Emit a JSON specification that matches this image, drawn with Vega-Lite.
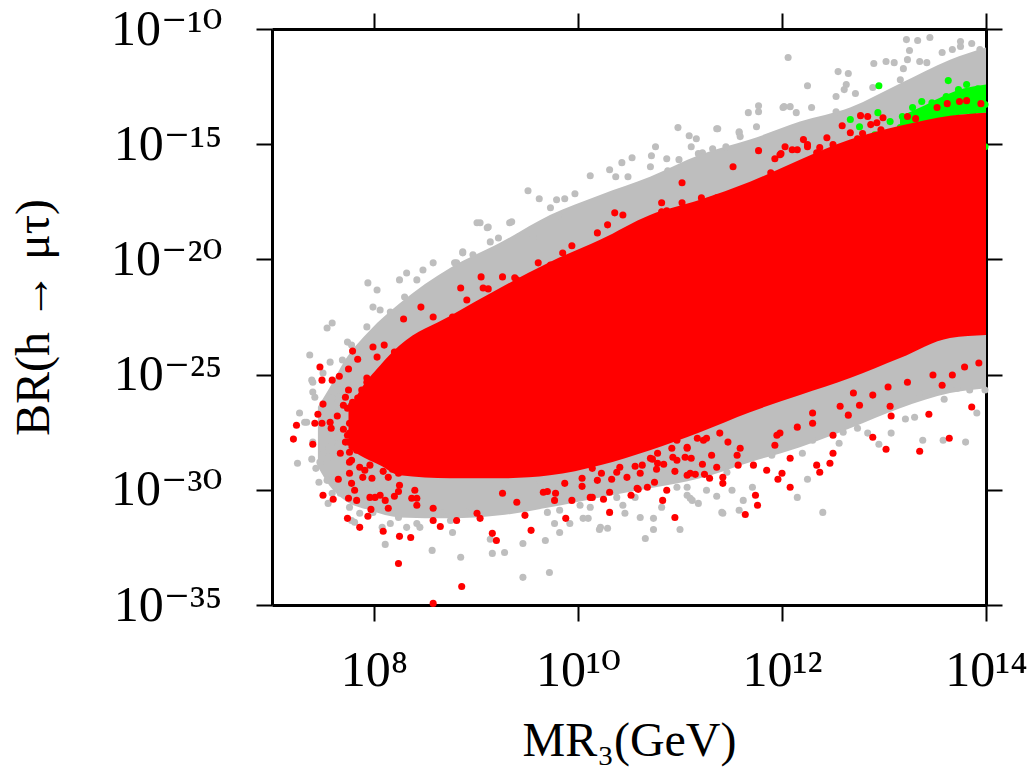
{
  "$schema": "https://vega.github.io/schema/vega-lite/v6.json",
  "width": 714,
  "height": 576,
  "autosize": "none",
  "padding": {"left": 272, "top": 29, "right": 41, "bottom": 169},
  "background": "white",
  "datasets": {
    "grayBand": [
      {"logM": 7.45, "hi": -26.4, "lo": -29.0},
      {"logM": 7.56, "hi": -25.6, "lo": -29.8},
      {"logM": 7.716, "hi": -24.37, "lo": -30.46},
      {"logM": 7.961, "hi": -23.07, "lo": -30.89},
      {"logM": 8.255, "hi": -21.89, "lo": -31.2},
      {"logM": 8.745, "hi": -20.37, "lo": -31.24},
      {"logM": 9.235, "hi": -19.28, "lo": -31.11},
      {"logM": 9.725, "hi": -18.07, "lo": -30.76},
      {"logM": 10.216, "hi": -17.2, "lo": -30.33},
      {"logM": 10.706, "hi": -16.41, "lo": -29.93},
      {"logM": 11.196, "hi": -15.46, "lo": -29.5},
      {"logM": 11.686, "hi": -14.8, "lo": -28.8},
      {"logM": 12.176, "hi": -14.02, "lo": -28.15},
      {"logM": 12.667, "hi": -13.41, "lo": -27.33},
      {"logM": 13.157, "hi": -12.37, "lo": -26.46},
      {"logM": 13.647, "hi": -11.33, "lo": -25.8},
      {"logM": 14.0, "hi": -10.8, "lo": -25.59}
    ],
    "redBand": [
      {"logM": 7.75, "hi": -26.6, "lo": -28.2},
      {"logM": 7.86, "hi": -25.7, "lo": -28.5},
      {"logM": 8.059, "hi": -24.6, "lo": -28.93},
      {"logM": 8.255, "hi": -23.72, "lo": -29.37},
      {"logM": 8.745, "hi": -22.46, "lo": -29.5},
      {"logM": 9.235, "hi": -21.24, "lo": -29.5},
      {"logM": 9.725, "hi": -20.11, "lo": -29.37},
      {"logM": 10.216, "hi": -19.15, "lo": -28.93},
      {"logM": 10.706, "hi": -18.07, "lo": -28.28},
      {"logM": 11.196, "hi": -17.41, "lo": -27.5},
      {"logM": 11.686, "hi": -16.63, "lo": -26.63},
      {"logM": 12.176, "hi": -15.67, "lo": -25.89},
      {"logM": 12.667, "hi": -14.8, "lo": -25.15},
      {"logM": 13.157, "hi": -14.2, "lo": -24.28},
      {"logM": 13.647, "hi": -13.76, "lo": -23.41},
      {"logM": 14.0, "hi": -13.63, "lo": -23.28}
    ],
    "greenBand": [
      {"logM": 13.157, "hi": -13.8, "lo": -14.28},
      {"logM": 13.353, "hi": -13.41, "lo": -14.15},
      {"logM": 13.549, "hi": -12.98, "lo": -13.93},
      {"logM": 13.745, "hi": -12.63, "lo": -13.72},
      {"logM": 14.0, "hi": -12.41, "lo": -13.63}
    ],
    "gray": [
      {"logM": 12.06, "logBR": -11.24}, {"logM": 12.25, "logBR": -12.46}, {"logM": 12.55, "logBR": -11.85}, {"logM": 12.65, "logBR": -11.93},
      {"logM": 12.9, "logBR": -11.5}, {"logM": 13.02, "logBR": -11.41}, {"logM": 13.1, "logBR": -11.46}, {"logM": 13.19, "logBR": -11.72},
      {"logM": 13.22, "logBR": -10.46}, {"logM": 13.33, "logBR": -10.5}, {"logM": 13.25, "logBR": -10.93}, {"logM": 13.23, "logBR": -11.33},
      {"logM": 13.35, "logBR": -11.41}, {"logM": 13.42, "logBR": -11.46}, {"logM": 13.57, "logBR": -11.02}, {"logM": 13.75, "logBR": -10.54},
      {"logM": 13.75, "logBR": -10.76}, {"logM": 13.67, "logBR": -10.89}, {"logM": 12.63, "logBR": -12.41}, {"logM": 12.61, "logBR": -12.63},
      {"logM": 12.53, "logBR": -12.93}, {"logM": 12.72, "logBR": -12.8}, {"logM": 11.67, "logBR": -13.63}, {"logM": 11.77, "logBR": -13.33},
      {"logM": 11.77, "logBR": -13.59}, {"logM": 12.01, "logBR": -13.41}, {"logM": 12.14, "logBR": -13.63}, {"logM": 12.29, "logBR": -13.41},
      {"logM": 11.36, "logBR": -14.33}, {"logM": 11.58, "logBR": -14.46}, {"logM": 11.75, "logBR": -14.24}, {"logM": 11.22, "logBR": -15.37},
      {"logM": 11.45, "logBR": -15.11}, {"logM": 12.53, "logBR": -13.59}, {"logM": 12.89, "logBR": -12.54}, {"logM": 13.16, "logBR": -12.2},
      {"logM": 13.45, "logBR": -10.37}, {"logM": 13.86, "logBR": -10.63}, {"logM": 13.94, "logBR": -10.89},
      {"logM": 9.51, "logBR": -17.02}, {"logM": 9.62, "logBR": -17.37}, {"logM": 9.79, "logBR": -17.41}, {"logM": 9.87, "logBR": -17.37},
      {"logM": 9.97, "logBR": -17.15}, {"logM": 9.73, "logBR": -17.76}, {"logM": 9.81, "logBR": -18.11}, {"logM": 10.12, "logBR": -16.37},
      {"logM": 10.31, "logBR": -16.11}, {"logM": 10.37, "logBR": -16.41}, {"logM": 10.43, "logBR": -15.8}, {"logM": 10.53, "logBR": -15.59},
      {"logM": 10.49, "logBR": -16.41}, {"logM": 10.72, "logBR": -15.5}, {"logM": 10.76, "logBR": -15.11}, {"logM": 10.71, "logBR": -15.98},
      {"logM": 10.87, "logBR": -15.63}, {"logM": 10.88, "logBR": -16.15}, {"logM": 10.99, "logBR": -15.67}, {"logM": 10.98, "logBR": -14.28},
      {"logM": 11.09, "logBR": -14.63}, {"logM": 11.16, "logBR": -14.76}, {"logM": 11.18, "logBR": -15.41}, {"logM": 11.11, "logBR": -15.11},
      {"logM": 11.32, "logBR": -15.2}, {"logM": 11.37, "logBR": -14.33}, {"logM": 11.58, "logBR": -14.5}, {"logM": 11.59, "logBR": -14.67},
      {"logM": 12.02, "logBR": -13.37}, {"logM": 12.08, "logBR": -13.37}, {"logM": 9.04, "logBR": -18.41}, {"logM": 9.11, "logBR": -18.63},
      {"logM": 9.22, "logBR": -19.07}, {"logM": 9.35, "logBR": -18.37}, {"logM": 9.42, "logBR": -19.02}, {"logM": 9.56, "logBR": -19.07},
      {"logM": 8.87, "logBR": -19.67}, {"logM": 8.97, "logBR": -19.8}, {"logM": 8.81, "logBR": -20.15},
      {"logM": 7.37, "logBR": -24.15}, {"logM": 7.54, "logBR": -22.98}, {"logM": 7.59, "logBR": -22.76}, {"logM": 7.74, "logBR": -23.59},
      {"logM": 7.94, "logBR": -21.02}, {"logM": 8.03, "logBR": -21.33}, {"logM": 7.99, "logBR": -22.07}, {"logM": 7.93, "logBR": -22.93},
      {"logM": 8.06, "logBR": -22.2}, {"logM": 8.32, "logBR": -20.59}, {"logM": 8.25, "logBR": -20.89}, {"logM": 8.42, "logBR": -20.89},
      {"logM": 8.48, "logBR": -20.46}, {"logM": 8.58, "logBR": -20.15}, {"logM": 8.79, "logBR": -20.15}, {"logM": 8.87, "logBR": -19.72},
      {"logM": 9.14, "logBR": -19.24}, {"logM": 9.01, "logBR": -18.41}, {"logM": 9.12, "logBR": -18.59}, {"logM": 9.33, "logBR": -18.41},
      {"logM": 8.3, "logBR": -21.63}, {"logM": 8.16, "logBR": -22.28}, {"logM": 7.84, "logBR": -23.93}, {"logM": 7.74, "logBR": -25.24},
      {"logM": 7.4, "logBR": -25.33}, {"logM": 7.5, "logBR": -24.93}, {"logM": 7.57, "logBR": -24.46}, {"logM": 7.27, "logBR": -26.67},
      {"logM": 7.34, "logBR": -27.07}, {"logM": 7.25, "logBR": -28.85}, {"logM": 7.39, "logBR": -28.67}, {"logM": 7.4, "logBR": -27.93},
      {"logM": 7.49, "logBR": -28.2}, {"logM": 7.6, "logBR": -27.54}, {"logM": 7.64, "logBR": -25.67}, {"logM": 7.69, "logBR": -24.37},
      {"logM": 7.78, "logBR": -23.72},
      {"logM": 7.43, "logBR": -29.07}, {"logM": 7.47, "logBR": -28.8}, {"logM": 7.55, "logBR": -28.59}, {"logM": 7.46, "logBR": -29.67},
      {"logM": 7.54, "logBR": -29.59}, {"logM": 7.62, "logBR": -29.37}, {"logM": 7.69, "logBR": -29.8}, {"logM": 7.59, "logBR": -30.15},
      {"logM": 7.67, "logBR": -30.15}, {"logM": 7.55, "logBR": -30.59}, {"logM": 7.76, "logBR": -30.76}, {"logM": 7.86, "logBR": -31.02},
      {"logM": 7.78, "logBR": -31.33}, {"logM": 7.99, "logBR": -30.98}, {"logM": 7.96, "logBR": -30.67}, {"logM": 8.07, "logBR": -29.93},
      {"logM": 8.16, "logBR": -29.93}, {"logM": 8.08, "logBR": -31.63}, {"logM": 8.16, "logBR": -31.46}, {"logM": 8.24, "logBR": -31.2},
      {"logM": 8.32, "logBR": -31.63}, {"logM": 8.11, "logBR": -32.37}, {"logM": 8.42, "logBR": -31.46}, {"logM": 7.4, "logBR": -25.76},
      {"logM": 7.42, "logBR": -25.98}, {"logM": 7.32, "logBR": -27.07}, {"logM": 7.62, "logBR": -26.67}, {"logM": 7.62, "logBR": -27.41},
      {"logM": 7.59, "logBR": -27.93}, {"logM": 7.67, "logBR": -27.98}, {"logM": 7.76, "logBR": -29.15}, {"logM": 7.74, "logBR": -28.85},
      {"logM": 7.83, "logBR": -29.15}, {"logM": 7.59, "logBR": -26.02}, {"logM": 7.65, "logBR": -25.37}, {"logM": 7.39, "logBR": -25.24},
      {"logM": 8.03, "logBR": -28.72}, {"logM": 7.89, "logBR": -28.72}, {"logM": 8.06, "logBR": -29.07}, {"logM": 7.96, "logBR": -29.72},
      {"logM": 7.98, "logBR": -29.93},
      {"logM": 7.79, "logBR": -29.72}, {"logM": 7.81, "logBR": -31.41}, {"logM": 8.57, "logBR": -32.63}, {"logM": 8.85, "logBR": -32.93},
      {"logM": 8.67, "logBR": -31.02}, {"logM": 8.91, "logBR": -30.98}, {"logM": 9.14, "logBR": -32.15}, {"logM": 9.16, "logBR": -32.76},
      {"logM": 9.28, "logBR": -32.72}, {"logM": 9.46, "logBR": -32.33}, {"logM": 9.46, "logBR": -33.8}, {"logM": 9.72, "logBR": -33.59},
      {"logM": 9.68, "logBR": -32.2}, {"logM": 9.82, "logBR": -31.85}, {"logM": 10.05, "logBR": -31.24}, {"logM": 10.22, "logBR": -31.63},
      {"logM": 10.29, "logBR": -31.67}, {"logM": 10.66, "logBR": -32.11}, {"logM": 8.77, "logBR": -31.85}, {"logM": 8.45, "logBR": -31.63},
      {"logM": 8.75, "logBR": -31.33},
      {"logM": 9.77, "logBR": -31.46}, {"logM": 9.7, "logBR": -30.98}, {"logM": 9.82, "logBR": -30.89}, {"logM": 9.92, "logBR": -31.46},
      {"logM": 10.1, "logBR": -31.24}, {"logM": 10.21, "logBR": -31.72}, {"logM": 10.44, "logBR": -30.67}, {"logM": 10.46, "logBR": -31.02},
      {"logM": 10.61, "logBR": -31.2}, {"logM": 10.74, "logBR": -31.24}, {"logM": 10.74, "logBR": -31.72}, {"logM": 10.82, "logBR": -30.76},
      {"logM": 11.0, "logBR": -31.72}, {"logM": 11.07, "logBR": -30.24}, {"logM": 11.12, "logBR": -30.46}, {"logM": 11.18, "logBR": -30.59},
      {"logM": 11.36, "logBR": -30.28}, {"logM": 11.41, "logBR": -30.98}, {"logM": 11.51, "logBR": -30.02}, {"logM": 11.58, "logBR": -30.89},
      {"logM": 10.02, "logBR": -30.67}, {"logM": 10.12, "logBR": -30.76}, {"logM": 10.22, "logBR": -30.02}, {"logM": 10.38, "logBR": -30.33},
      {"logM": 10.56, "logBR": -30.33}, {"logM": 10.97, "logBR": -29.89}, {"logM": 11.07, "logBR": -29.89}, {"logM": 11.26, "logBR": -30.02},
      {"logM": 11.46, "logBR": -29.24}, {"logM": 11.52, "logBR": -28.8}, {"logM": 11.32, "logBR": -28.8}, {"logM": 11.17, "logBR": -28.5},
      {"logM": 9.63, "logBR": -29.59}, {"logM": 9.73, "logBR": -29.28}, {"logM": 9.82, "logBR": -29.89}, {"logM": 10.02, "logBR": -30.33},
      {"logM": 10.15, "logBR": -30.02},
      {"logM": 11.1, "logBR": -30.37}, {"logM": 11.42, "logBR": -31.02}, {"logM": 11.62, "logBR": -30.46}, {"logM": 11.71, "logBR": -29.89},
      {"logM": 11.9, "logBR": -28.5}, {"logM": 12.15, "logBR": -30.33}, {"logM": 12.25, "logBR": -29.54}, {"logM": 12.4, "logBR": -30.98},
      {"logM": 12.2, "logBR": -28.41}, {"logM": 12.3, "logBR": -27.85}, {"logM": 12.56, "logBR": -27.98}, {"logM": 12.6, "logBR": -27.5},
      {"logM": 12.74, "logBR": -27.33}, {"logM": 12.84, "logBR": -27.54}, {"logM": 12.95, "logBR": -28.02}, {"logM": 13.07, "logBR": -27.54},
      {"logM": 13.21, "logBR": -26.93}, {"logM": 13.3, "logBR": -26.85}, {"logM": 13.38, "logBR": -27.85}, {"logM": 13.58, "logBR": -27.85},
      {"logM": 13.59, "logBR": -26.07}, {"logM": 13.72, "logBR": -25.59}, {"logM": 13.84, "logBR": -25.67}, {"logM": 13.91, "logBR": -26.67},
      {"logM": 13.99, "logBR": -25.67}, {"logM": 13.48, "logBR": -25.76}, {"logM": 13.35, "logBR": -25.8}, {"logM": 13.8, "logBR": -27.93}
    ],
    "green": [
      {"logM": 12.95, "logBR": -12.46}, {"logM": 12.67, "logBR": -13.93}, {"logM": 12.76, "logBR": -14.24}, {"logM": 12.94, "logBR": -13.63},
      {"logM": 13.63, "logBR": -12.24}, {"logM": 13.81, "logBR": -12.41}, {"logM": 13.73, "logBR": -12.63}, {"logM": 13.92, "logBR": -12.59},
      {"logM": 13.61, "logBR": -12.93}, {"logM": 13.37, "logBR": -13.15}, {"logM": 13.47, "logBR": -13.2}, {"logM": 13.28, "logBR": -13.41},
      {"logM": 13.18, "logBR": -13.8}, {"logM": 13.16, "logBR": -14.28}, {"logM": 13.25, "logBR": -14.28}, {"logM": 13.45, "logBR": -14.07},
      {"logM": 13.55, "logBR": -13.93}, {"logM": 13.68, "logBR": -13.59}, {"logM": 13.87, "logBR": -13.07}, {"logM": 13.96, "logBR": -12.85},
      {"logM": 13.52, "logBR": -13.5}, {"logM": 13.42, "logBR": -13.72}, {"logM": 13.65, "logBR": -13.2}, {"logM": 13.77, "logBR": -13.37},
      {"logM": 13.87, "logBR": -13.63}, {"logM": 13.94, "logBR": -13.93}, {"logM": 12.91, "logBR": -14.59}, {"logM": 13.16, "logBR": -14.72},
      {"logM": 13.99, "logBR": -15.11}, {"logM": 13.06, "logBR": -14.02}, {"logM": 13.35, "logBR": -13.85}, {"logM": 13.75, "logBR": -12.89},
      {"logM": 13.99, "logBR": -13.28}
    ],
    "red": [
      {"logM": 7.21, "logBR": -27.8}, {"logM": 7.24, "logBR": -27.2}, {"logM": 7.4, "logBR": -28.02}, {"logM": 7.42, "logBR": -27.11},
      {"logM": 7.5, "logBR": -26.28}, {"logM": 7.45, "logBR": -26.72}, {"logM": 7.49, "logBR": -27.11}, {"logM": 7.57, "logBR": -27.07},
      {"logM": 7.58, "logBR": -27.33}, {"logM": 7.64, "logBR": -26.8}, {"logM": 7.7, "logBR": -27.37}, {"logM": 7.74, "logBR": -27.63},
      {"logM": 7.75, "logBR": -27.93}, {"logM": 7.76, "logBR": -28.37}, {"logM": 7.65, "logBR": -29.54}, {"logM": 7.5, "logBR": -30.24},
      {"logM": 7.6, "logBR": -30.41}, {"logM": 7.75, "logBR": -30.37}, {"logM": 7.81, "logBR": -30.02}, {"logM": 7.83, "logBR": -30.46},
      {"logM": 7.74, "logBR": -31.24}, {"logM": 7.86, "logBR": -31.63}, {"logM": 7.94, "logBR": -31.15}, {"logM": 7.97, "logBR": -30.85},
      {"logM": 7.96, "logBR": -30.33}, {"logM": 8.06, "logBR": -30.24}, {"logM": 8.11, "logBR": -30.46}, {"logM": 8.14, "logBR": -30.8},
      {"logM": 8.09, "logBR": -31.8}, {"logM": 8.25, "logBR": -32.02}, {"logM": 8.36, "logBR": -32.07}, {"logM": 8.2, "logBR": -30.28},
      {"logM": 8.24, "logBR": -30.07}, {"logM": 8.25, "logBR": -29.8}, {"logM": 7.89, "logBR": -29.46}, {"logM": 7.98, "logBR": -29.5},
      {"logM": 8.14, "logBR": -29.46}, {"logM": 8.09, "logBR": -29.2}, {"logM": 8.18, "logBR": -29.11}, {"logM": 8.24, "logBR": -29.28},
      {"logM": 8.35, "logBR": -28.8}, {"logM": 8.42, "logBR": -29.11}, {"logM": 8.4, "logBR": -30.02}, {"logM": 8.37, "logBR": -30.37},
      {"logM": 8.42, "logBR": -30.67}, {"logM": 7.91, "logBR": -29.15}, {"logM": 7.76, "logBR": -28.8}, {"logM": 7.96, "logBR": -28.93},
      {"logM": 7.88, "logBR": -27.93}, {"logM": 7.83, "logBR": -28.28}, {"logM": 7.79, "logBR": -27.41}, {"logM": 7.76, "logBR": -27.11},
      {"logM": 7.74, "logBR": -26.46}, {"logM": 7.78, "logBR": -26.33}, {"logM": 7.84, "logBR": -26.02}, {"logM": 7.72, "logBR": -25.98},
      {"logM": 7.75, "logBR": -25.67}, {"logM": 7.88, "logBR": -25.67}, {"logM": 7.93, "logBR": -25.33}, {"logM": 7.49, "logBR": -25.24},
      {"logM": 7.59, "logBR": -25.24}, {"logM": 7.83, "logBR": -26.67}, {"logM": 7.93, "logBR": -26.67}, {"logM": 8.03, "logBR": -27.11},
      {"logM": 7.99, "logBR": -27.85}, {"logM": 8.06, "logBR": -27.98}, {"logM": 8.03, "logBR": -28.41}, {"logM": 8.18, "logBR": -28.8},
      {"logM": 8.27, "logBR": -28.93}, {"logM": 8.33, "logBR": -29.15},
      {"logM": 7.47, "logBR": -24.67}, {"logM": 7.66, "logBR": -25.07}, {"logM": 7.75, "logBR": -24.76}, {"logM": 7.79, "logBR": -23.98},
      {"logM": 7.84, "logBR": -24.33}, {"logM": 7.99, "logBR": -23.8}, {"logM": 8.03, "logBR": -24.24}, {"logM": 8.1, "logBR": -23.72},
      {"logM": 8.2, "logBR": -24.02}, {"logM": 8.29, "logBR": -22.59}, {"logM": 8.46, "logBR": -22.07}, {"logM": 8.58, "logBR": -22.5},
      {"logM": 8.77, "logBR": -22.5}, {"logM": 8.85, "logBR": -21.24}, {"logM": 8.91, "logBR": -21.76}, {"logM": 9.05, "logBR": -20.76},
      {"logM": 9.12, "logBR": -21.28}, {"logM": 9.26, "logBR": -20.76}, {"logM": 9.38, "logBR": -20.8}, {"logM": 7.7, "logBR": -26.33},
      {"logM": 7.79, "logBR": -26.2}, {"logM": 7.76, "logBR": -27.54}, {"logM": 7.72, "logBR": -27.93}, {"logM": 7.89, "logBR": -27.72},
      {"logM": 7.67, "logBR": -28.41}, {"logM": 7.78, "logBR": -28.72}, {"logM": 7.86, "logBR": -29.02}, {"logM": 7.76, "logBR": -29.28},
      {"logM": 7.93, "logBR": -26.98}, {"logM": 7.96, "logBR": -25.8}, {"logM": 7.93, "logBR": -25.15},
      {"logM": 9.07, "logBR": -21.24}, {"logM": 9.17, "logBR": -21.63}, {"logM": 9.4, "logBR": -20.89}, {"logM": 9.61, "logBR": -20.15},
      {"logM": 9.73, "logBR": -20.24}, {"logM": 9.85, "logBR": -19.72}, {"logM": 9.94, "logBR": -19.41}, {"logM": 10.19, "logBR": -18.85},
      {"logM": 10.29, "logBR": -18.5}, {"logM": 10.36, "logBR": -17.98}, {"logM": 10.44, "logBR": -18.07}, {"logM": 10.54, "logBR": -18.63},
      {"logM": 10.82, "logBR": -17.54}, {"logM": 10.82, "logBR": -17.93}, {"logM": 10.87, "logBR": -17.89}, {"logM": 11.02, "logBR": -16.67},
      {"logM": 11.02, "logBR": -17.54}, {"logM": 11.21, "logBR": -17.33}, {"logM": 11.36, "logBR": -17.33}, {"logM": 11.52, "logBR": -15.98},
      {"logM": 11.77, "logBR": -15.28}, {"logM": 11.89, "logBR": -16.24}, {"logM": 11.93, "logBR": -15.63}, {"logM": 11.99, "logBR": -15.41},
      {"logM": 12.1, "logBR": -15.24}, {"logM": 12.21, "logBR": -14.8}, {"logM": 12.25, "logBR": -15.11},
      {"logM": 12.77, "logBR": -13.76}, {"logM": 12.84, "logBR": -13.8}, {"logM": 12.99, "logBR": -13.85}, {"logM": 12.93, "logBR": -14.07},
      {"logM": 12.87, "logBR": -14.15}, {"logM": 12.97, "logBR": -14.37}, {"logM": 12.79, "logBR": -14.54}, {"logM": 12.74, "logBR": -14.76},
      {"logM": 12.67, "logBR": -14.5}, {"logM": 12.59, "logBR": -14.2}, {"logM": 13.52, "logBR": -13.41}, {"logM": 13.62, "logBR": -13.24},
      {"logM": 13.74, "logBR": -13.15}, {"logM": 13.81, "logBR": -13.11}, {"logM": 13.95, "logBR": -13.24}, {"logM": 13.23, "logBR": -13.8},
      {"logM": 13.31, "logBR": -13.89}, {"logM": 11.98, "logBR": -15.46}, {"logM": 12.03, "logBR": -15.11}, {"logM": 12.25, "logBR": -15.02},
      {"logM": 12.44, "logBR": -14.72}, {"logM": 12.5, "logBR": -15.02}, {"logM": 12.37, "logBR": -15.15}, {"logM": 12.15, "logBR": -15.24},
      {"logM": 12.34, "logBR": -15.37},
      {"logM": 8.24, "logBR": -33.2}, {"logM": 8.86, "logBR": -34.2}, {"logM": 8.58, "logBR": -34.93}, {"logM": 7.78, "logBR": -29.72},
      {"logM": 8.01, "logBR": -30.33}, {"logM": 8.42, "logBR": -30.37}, {"logM": 8.58, "logBR": -30.8}, {"logM": 8.58, "logBR": -31.33},
      {"logM": 8.65, "logBR": -31.59}, {"logM": 8.81, "logBR": -31.33}, {"logM": 9.01, "logBR": -31.02}, {"logM": 9.04, "logBR": -31.24},
      {"logM": 9.16, "logBR": -31.89}, {"logM": 9.2, "logBR": -32.2}, {"logM": 9.26, "logBR": -30.15}, {"logM": 9.4, "logBR": -30.54},
      {"logM": 9.54, "logBR": -31.76}, {"logM": 9.48, "logBR": -31.11}, {"logM": 9.66, "logBR": -30.11}, {"logM": 9.88, "logBR": -31.24},
      {"logM": 9.94, "logBR": -30.46}, {"logM": 10.12, "logBR": -30.33}, {"logM": 10.31, "logBR": -30.11}, {"logM": 10.58, "logBR": -29.93},
      {"logM": 10.61, "logBR": -29.28}, {"logM": 10.19, "logBR": -29.59},
      {"logM": 9.7, "logBR": -30.07}, {"logM": 9.78, "logBR": -30.15}, {"logM": 9.77, "logBR": -30.46}, {"logM": 9.87, "logBR": -29.72},
      {"logM": 10.04, "logBR": -29.85}, {"logM": 10.14, "logBR": -30.33}, {"logM": 10.25, "logBR": -30.41}, {"logM": 10.31, "logBR": -30.98},
      {"logM": 10.33, "logBR": -29.54}, {"logM": 10.48, "logBR": -29.46}, {"logM": 10.52, "logBR": -30.24}, {"logM": 10.59, "logBR": -29.98},
      {"logM": 10.68, "logBR": -29.89}, {"logM": 10.75, "logBR": -29.67}, {"logM": 10.77, "logBR": -29.11}, {"logM": 10.87, "logBR": -30.02},
      {"logM": 10.83, "logBR": -30.46}, {"logM": 10.95, "logBR": -31.2}, {"logM": 10.95, "logBR": -29.2}, {"logM": 11.07, "logBR": -29.37},
      {"logM": 11.15, "logBR": -29.33}, {"logM": 11.24, "logBR": -29.33}, {"logM": 11.29, "logBR": -29.5}, {"logM": 11.42, "logBR": -29.72},
      {"logM": 11.36, "logBR": -29.02}, {"logM": 11.22, "logBR": -28.89}, {"logM": 11.31, "logBR": -28.5}, {"logM": 11.11, "logBR": -28.63},
      {"logM": 11.05, "logBR": -28.59}, {"logM": 10.93, "logBR": -28.59}, {"logM": 10.84, "logBR": -28.89}, {"logM": 10.73, "logBR": -28.67},
      {"logM": 10.63, "logBR": -28.93}, {"logM": 10.56, "logBR": -28.98}, {"logM": 10.41, "logBR": -29.02}, {"logM": 10.38, "logBR": -29.24},
      {"logM": 10.23, "logBR": -29.28}, {"logM": 10.04, "logBR": -29.5}, {"logM": 10.14, "logBR": -29.07}, {"logM": 10.02, "logBR": -28.85},
      {"logM": 10.26, "logBR": -28.5}, {"logM": 10.41, "logBR": -28.37}, {"logM": 10.78, "logBR": -28.41}, {"logM": 10.92, "logBR": -28.2},
      {"logM": 11.07, "logBR": -28.2}, {"logM": 11.26, "logBR": -27.76}, {"logM": 11.39, "logBR": -27.54}, {"logM": 11.47, "logBR": -27.93},
      {"logM": 11.56, "logBR": -28.5}, {"logM": 11.57, "logBR": -28.93}, {"logM": 11.17, "logBR": -27.76}, {"logM": 10.97, "logBR": -27.85},
      {"logM": 11.1, "logBR": -29.28}, {"logM": 11.42, "logBR": -29.46}, {"logM": 11.74, "logBR": -30.24}, {"logM": 11.76, "logBR": -30.67},
      {"logM": 11.64, "logBR": -31.07}, {"logM": 11.72, "logBR": -28.93}, {"logM": 11.85, "logBR": -29.15}, {"logM": 11.96, "logBR": -29.54},
      {"logM": 12.0, "logBR": -29.28}, {"logM": 12.08, "logBR": -28.63}, {"logM": 11.98, "logBR": -27.54}, {"logM": 11.93, "logBR": -28.07},
      {"logM": 12.34, "logBR": -28.93}, {"logM": 12.37, "logBR": -29.24}, {"logM": 12.47, "logBR": -28.85}, {"logM": 12.5, "logBR": -28.41},
      {"logM": 12.5, "logBR": -27.63}, {"logM": 12.3, "logBR": -27.11}, {"logM": 12.08, "logBR": -29.89}, {"logM": 12.57, "logBR": -26.37},
      {"logM": 12.65, "logBR": -26.76}, {"logM": 12.76, "logBR": -26.33}, {"logM": 12.89, "logBR": -27.72}, {"logM": 13.02, "logBR": -28.24},
      {"logM": 13.07, "logBR": -26.8}, {"logM": 13.06, "logBR": -26.37}, {"logM": 13.35, "logBR": -28.33}, {"logM": 13.44, "logBR": -26.72},
      {"logM": 13.64, "logBR": -27.76}, {"logM": 13.86, "logBR": -26.41}, {"logM": 13.67, "logBR": -25.02}, {"logM": 13.79, "logBR": -24.67},
      {"logM": 13.93, "logBR": -24.5}, {"logM": 13.48, "logBR": -25.02}, {"logM": 13.57, "logBR": -25.46}, {"logM": 13.23, "logBR": -25.33},
      {"logM": 13.04, "logBR": -25.54}, {"logM": 12.89, "logBR": -25.89}, {"logM": 12.7, "logBR": -25.8}, {"logM": 12.3, "logBR": -26.67},
      {"logM": 12.15, "logBR": -27.28}, {"logM": 11.95, "logBR": -27.63}, {"logM": 11.59, "logBR": -28.2}, {"logM": 11.23, "logBR": -27.85},
      {"logM": 11.07, "logBR": -28.15}, {"logM": 10.97, "logBR": -28.72}, {"logM": 10.78, "logBR": -28.85}, {"logM": 10.71, "logBR": -28.63}
    ]
  },
  "layer": [
    {
      "data": {"name": "grayBand"},
      "mark": {"type": "area", "color": "#bebebe", "interpolate": "monotone"},
      "encoding": {
        "x": {
          "field": "logM", "type": "quantitative",
          "scale": {"domain": [7, 14], "nice": false, "zero": false},
          "axis": {
            "orient": "bottom",
            "values": [8, 10, 12, 14],
            "labelExpr": "datum.value == 8 ? '10⁸' : datum.value == 10 ? '10¹⁰' : datum.value == 12 ? '10¹²' : '10¹⁴'",
            "labelPadding": 24,
            "title": "MR₃(GeV)",
            "titlePadding": 22
          }
        },
        "y": {
          "field": "hi", "type": "quantitative",
          "scale": {"domain": [-35, -10], "nice": false, "zero": false},
          "axis": {
            "orient": "left",
            "values": [-35, -30, -25, -20, -15, -10],
            "labelExpr": "datum.value == -10 ? '10⁻¹⁰' : datum.value == -15 ? '10⁻¹⁵' : datum.value == -20 ? '10⁻²⁰' : datum.value == -25 ? '10⁻²⁵' : datum.value == -30 ? '10⁻³⁰' : '10⁻³⁵'",
            "labelPadding": 34,
            "title": "BR(h → μτ)",
            "titlePadding": 52
          }
        },
        "y2": {"field": "lo"}
      }
    },
    {
      "data": {"name": "gray"},
      "mark": {"type": "circle", "size": 50, "color": "#bebebe", "opacity": 1},
      "encoding": {
        "x": {"field": "logM", "type": "quantitative", "axis": null},
        "y": {"field": "logBR", "type": "quantitative", "axis": null}
      }
    },
    {
      "data": {"name": "greenBand"},
      "mark": {"type": "area", "color": "#00ff00", "interpolate": "monotone"},
      "encoding": {
        "x": {"field": "logM", "type": "quantitative", "axis": null},
        "y": {"field": "hi", "type": "quantitative", "axis": null},
        "y2": {"field": "lo"}
      }
    },
    {
      "data": {"name": "green"},
      "mark": {"type": "circle", "size": 50, "color": "#00ff00", "opacity": 1},
      "encoding": {
        "x": {"field": "logM", "type": "quantitative", "axis": null},
        "y": {"field": "logBR", "type": "quantitative", "axis": null}
      }
    },
    {
      "data": {"name": "redBand"},
      "mark": {"type": "area", "color": "#ff0000", "interpolate": "monotone"},
      "encoding": {
        "x": {"field": "logM", "type": "quantitative", "axis": null},
        "y": {"field": "hi", "type": "quantitative", "axis": null},
        "y2": {"field": "lo"}
      }
    },
    {
      "data": {"name": "red"},
      "mark": {"type": "circle", "size": 50, "color": "#ff0000", "opacity": 1},
      "encoding": {
        "x": {
          "field": "logM", "type": "quantitative",
          "axis": {"orient": "top", "values": [8, 10, 12, 14], "labels": false, "title": null}
        },
        "y": {
          "field": "logBR", "type": "quantitative",
          "axis": {"orient": "right", "values": [-35, -30, -25, -20, -15, -10], "labels": false, "title": null}
        }
      }
    }
  ],
  "resolve": {"axis": {"x": "independent", "y": "independent"}},
  "config": {
    "view": {"stroke": null},
    "axis": {
      "grid": false,
      "domainColor": "black",
      "domainWidth": 3,
      "tickColor": "black",
      "tickWidth": 2,
      "tickSize": 16,
      "labelFont": "Liberation Serif, DejaVu Serif",
      "labelFontSize": 50,
      "labelColor": "black",
      "labelFlush": false,
      "labelOverlap": false,
      "titleFont": "Liberation Serif",
      "titleFontSize": 48,
      "titleFontWeight": "normal",
      "titleColor": "black",
      "zindex": 1
    }
  }
}
